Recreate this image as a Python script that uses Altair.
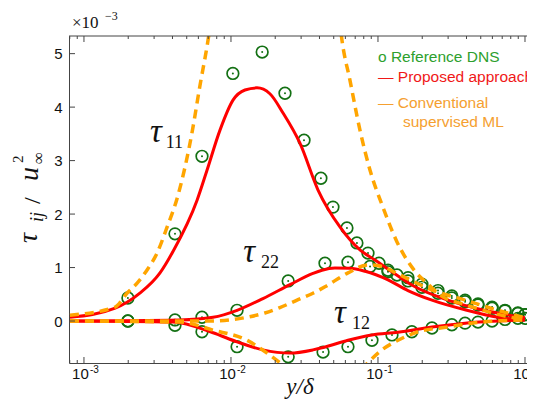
import altair as alt
import pandas as pd

# ---------------- data ----------------
dns_x_11 = [0.00199, 0.00416, 0.00635, 0.0103, 0.0163, 0.0233, 0.0314, 0.0409, 0.0494, 0.0615, 0.0719,
            0.0855, 0.1016, 0.117, 0.1347, 0.160, 0.199, 0.256, 0.318, 0.391, 0.479, 0.597, 0.731, 0.895, 1.0]
dns_y_11 = [0.43, 1.63, 3.08, 4.63, 5.03, 4.26, 3.38, 2.67, 2.13, 1.74, 1.46,
            1.27, 1.08, 0.95, 0.86, 0.75, 0.63, 0.52, 0.43, 0.36, 0.30, 0.24, 0.19, 0.14, 0.12]

dns_x_22 = [0.00199, 0.00416, 0.00635, 0.0110, 0.0245, 0.0436, 0.0625, 0.0883, 0.117, 0.160, 0.199,
            0.256, 0.318, 0.391, 0.479, 0.597, 0.731, 0.895, 1.0]
dns_y_22 = [0.0, 0.02, 0.07, 0.2, 0.75, 1.08, 1.10, 1.02, 0.92, 0.81, 0.69,
            0.57, 0.47, 0.39, 0.32, 0.26, 0.20, 0.15, 0.12]

dns_x_12 = [0.00199, 0.00416, 0.00635, 0.0110, 0.0245, 0.0423, 0.0625, 0.091, 0.1245, 0.170, 0.233,
            0.318, 0.391, 0.479, 0.597, 0.731, 0.895, 1.0]
dns_y_12 = [0.0, -0.08, -0.2, -0.48, -0.67, -0.58, -0.48, -0.36, -0.26, -0.2, -0.13,
            -0.07, -0.04, -0.02, 0.0, 0.03, 0.05, 0.05]

prop_x_11 = [0.000803, 0.00163, 0.0024, 0.00329, 0.00403, 0.00588, 0.00687, 0.00842, 0.01032, 0.01245,
             0.01503, 0.0184, 0.0226, 0.0294, 0.0391, 0.0551, 0.0754, 0.0955, 0.1245, 0.1786, 0.299, 0.509, 1.0]
prop_y_11 = [0.07, 0.24, 0.52, 0.9, 1.3, 2.26, 2.82, 3.57, 4.13, 4.32,
             4.36, 4.25, 3.89, 3.33, 2.45, 1.76, 1.33, 1.14, 0.92, 0.64, 0.39, 0.21, 0.06]

prop_x_22 = [0.000803, 0.0045, 0.00755, 0.011, 0.0165, 0.0252, 0.0361, 0.0416, 0.0509, 0.0646,
             0.0817, 0.117, 0.160, 0.233, 0.391, 0.655, 1.0]
prop_y_22 = [0.0, 0.02, 0.07, 0.2, 0.42, 0.68, 0.89, 0.95, 0.99, 0.985,
             0.93, 0.77, 0.57, 0.39, 0.21, 0.07, 0.02]

prop_x_12 = [0.000803, 0.00403, 0.00755, 0.011, 0.0165, 0.0252, 0.0361, 0.0416, 0.0625, 0.091, 0.1368,
             0.233, 0.391, 0.655, 1.0]
prop_y_12 = [0.0, -0.02, -0.22, -0.39, -0.54, -0.6, -0.54, -0.5, -0.36, -0.26, -0.21,
             -0.11, -0.04, 0.0, 0.02]

conv_x_11a = [0.000803, 0.00163, 0.00196, 0.0023, 0.00268, 0.00314, 0.00367, 0.00436, 0.00543, 0.00615,
              0.00698, 0.0078]
conv_y_11a = [0.11, 0.26, 0.52, 0.71, 0.95, 1.27, 1.75, 2.35, 3.52, 4.4, 5.25, 6.2]
conv_x_11b = [0.052, 0.0569, 0.0645, 0.0754, 0.0883, 0.108, 0.1347, 0.18, 0.215, 0.27, 0.4, 0.6, 1.0]
conv_y_11b = [6.2, 5.25, 4.5, 3.57, 2.82, 2.13, 1.48, 0.92, 0.71, 0.47, 0.3, 0.15, 0.02]

conv_x_22 = [0.000803, 0.0045, 0.00755, 0.01285, 0.017, 0.0215, 0.0286, 0.0361, 0.0436, 0.0625, 0.0855,
             0.1064, 0.1368, 0.233, 0.391, 0.655, 1.0]
conv_y_22 = [0.0, 0.0, 0.0, 0.07, 0.15, 0.25, 0.4, 0.52, 0.64, 0.9, 1.05,
             1.02, 0.88, 0.58, 0.39, 0.2, 0.06]

conv_x_12 = [0.000803, 0.0045, 0.00755, 0.01285, 0.0176, 0.0215, 0.0294, 0.047, 0.0695, 0.0855, 0.1064,
             0.1368, 0.1786, 0.299, 0.509, 1.0]
conv_y_12 = [0.0, -0.02, -0.17, -0.36, -0.6, -0.78, -1.1, -1.25, -1.05, -0.78, -0.54,
             -0.36, -0.22, -0.11, -0.02, 0.02]

major_x = [0.001, 0.01, 0.1, 1.0]
minor_x = [0.0008, 0.0009] + [k * 10.0 ** e for e in (-3, -2, -1) for k in range(2, 10)]
major_y = [0, 1, 2, 3, 4, 5]


def frame(xs, ys, name):
    return pd.DataFrame({"x": xs, "y": ys, "s": name})


dns = pd.concat([frame(dns_x_11, dns_y_11, "t11"), frame(dns_x_22, dns_y_22, "t22"),
                 frame(dns_x_12, dns_y_12, "t12")])
prop = pd.concat([frame(prop_x_11, prop_y_11, "t11"), frame(prop_x_22, prop_y_22, "t22"),
                  frame(prop_x_12, prop_y_12, "t12")])
conv = pd.concat([frame(conv_x_11a, conv_y_11a, "t11a"), frame(conv_x_11b, conv_y_11b, "t11b"),
                  frame(conv_x_22, conv_y_22, "t22"), frame(conv_x_12, conv_y_12, "t12")])

# ---------------- layout ----------------
W, H = 458, 327
xscale = alt.Scale(type="log", domain=[7.91e-4, 1.032], nice=False)
yscale = alt.Scale(domain=[-0.785, 5.33], nice=False, zero=False)

GREEN = "#137013"
RED = "#FF0000"
ORANGE = "#FFA500"
AXC = "#444444"


def X(axis):
    return alt.X("x:Q", scale=xscale, axis=axis)


def Y(axis):
    return alt.Y("y:Q", scale=yscale, axis=axis)


ax_x_main = alt.Axis(orient="bottom", values=major_x, labelExpr="'10'", ticks=False, tickSize=0,
                     domain=True, domainColor=AXC, domainWidth=1, grid=False, title=None,
                     labelFont="Liberation Sans", labelFontSize=15, labelColor="#111111",
                     labelPadding=3, labelOffset=-4, labelFlush=False, labelOverlap=False)
ax_x_sup = alt.Axis(orient="bottom", values=major_x,
                    labelExpr="datum.value < 0.005 ? '-3' : datum.value < 0.05 ? '-2' : datum.value < 0.5 ? '-1' : '0'",
                    ticks=False, tickSize=0, domain=False, grid=False, title=None,
                    labelFont="Liberation Sans", labelFontSize=10, labelColor="#111111",
                    labelPadding=1, labelOffset=10, labelFlush=False, labelOverlap=False)
ax_y_main = alt.Axis(orient="left", values=major_y, ticks=False, tickSize=0, domain=True,
                     domainColor=AXC, domainWidth=1, grid=False, title=None,
                     labelFont="Liberation Sans", labelFontSize=15, labelColor="#111111",
                     labelPadding=7)

circles = alt.Chart(dns).mark_point(shape="circle", filled=False, color=GREEN, size=135,
                                    strokeWidth=1.7, opacity=1).encode(
    x=X(ax_x_main), y=Y(ax_y_main), detail="s:N")
dots = alt.Chart(dns).mark_point(shape="circle", filled=True, color=GREEN, size=4,
                                 opacity=1).encode(x=X(ax_x_sup), y=Y(None), detail="s:N")
red = alt.Chart(prop).mark_line(color=RED, strokeWidth=3, interpolate="monotone", clip=True).encode(
    x=X(None), y=Y(None), detail="s:N")
orange = alt.Chart(conv).mark_line(color=ORANGE, strokeWidth=3.5, strokeDash=[9, 6],
                                   interpolate="monotone", clip=True).encode(
    x=X(None), y=Y(None), detail="s:N")

# inward ticks and the top frame line
xt_major = pd.DataFrame({"x": major_x})
xt_minor = pd.DataFrame({"x": minor_x})
yt_major = pd.DataFrame({"y": major_y})


def xticks(df, y0, y1):
    return alt.Chart(df).mark_rule(color=AXC, strokeWidth=1).encode(
        x=X(None), y=alt.value(y0), y2=alt.value(y1))


tick_layers = [
    xticks(xt_major, H, H - 6), xticks(xt_minor, H, H - 3),
    xticks(xt_major, 0, 6), xticks(xt_minor, 0, 3),
    alt.Chart(yt_major).mark_rule(color=AXC, strokeWidth=1).encode(
        y=Y(None), x=alt.value(0), x2=alt.value(6)),
    alt.Chart(pd.DataFrame({"t": [0]})).mark_rule(color=AXC, strokeWidth=1).encode(
        x=alt.value(0), x2=alt.value(W + 20), y=alt.value(0)),
]


def label_data(txt, x, y, size, font="Liberation Serif", style="italic"):
    d = pd.DataFrame({"t": [txt], "x": [x], "y": [y]})
    return alt.Chart(d).mark_text(align="left", baseline="alphabetic", font=font, fontStyle=style,
                                  fontSize=size, color="#111111").encode(
        x=X(None), y=Y(None), text="t:N")


def label_px(txt, px, py, size, color="#111111", font="Liberation Serif", style="italic",
             angle=0, align="left"):
    d = pd.DataFrame({"t": [txt]})
    return alt.Chart(d).mark_text(align=align, baseline="alphabetic", font=font, fontStyle=style,
                                  fontSize=size, color=color, angle=angle).encode(
        x=alt.value(px), y=alt.value(py), text="t:N")


texts = [
    # curve labels (placed in data coordinates)
    label_data("τ", 0.00281, 3.35, 33),
    label_data("11", 0.00360, 3.23, 18, style="normal"),
    label_data("τ", 0.0121, 1.10, 33),
    label_data("22", 0.0160, 0.99, 18, style="normal"),
    label_data("τ", 0.0502, -0.04, 33),
    label_data("12", 0.0665, -0.15, 18, style="normal"),
    # multiplier
    label_px("×10", 3, -8, 17, style="normal"),
    label_px("−3", 36, -16, 12, style="normal"),
    # y title (rotated pieces)
    label_px("τ", -32, 207, 28, angle=270),
    label_px("ij", -26, 186, 18, angle=270),
    label_px("/", -29, 168, 24, style="normal", angle=270),
    label_px("u", -31, 145, 28, angle=270),
    label_px("∞", -25, 128, 17, style="normal", angle=270),
    label_px("2", -46, 127, 15, style="normal", angle=270),
    # x title
    label_px("y/δ", 231, 358, 23, align="center"),
    # legend
    label_px("o Reference DNS", 309, 26, 15.5, color="#2DA02D", font="Liberation Sans", style="normal"),
    label_px("— Proposed approach", 309, 46, 15.5, color="#F01818", font="Liberation Sans", style="normal"),
    label_px("— Conventional", 309, 72, 15.5, color="#F5A030", font="Liberation Sans", style="normal"),
    label_px("supervised ML", 334, 91, 15.5, color="#F5A030", font="Liberation Sans", style="normal"),
]

chart = alt.layer(circles, dots, red, orange, *tick_layers, *texts).resolve_axis(
    x="independent", y="independent"
).properties(
    width=W, height=H,
    padding={"left": 61, "top": 28, "right": 0, "bottom": 38},
    autosize=alt.AutoSizeParams(type="none"),
    background="white",
).configure_view(stroke=None)

chart.save("out.html", embed_options={"renderer": "svg", "actions": False})
